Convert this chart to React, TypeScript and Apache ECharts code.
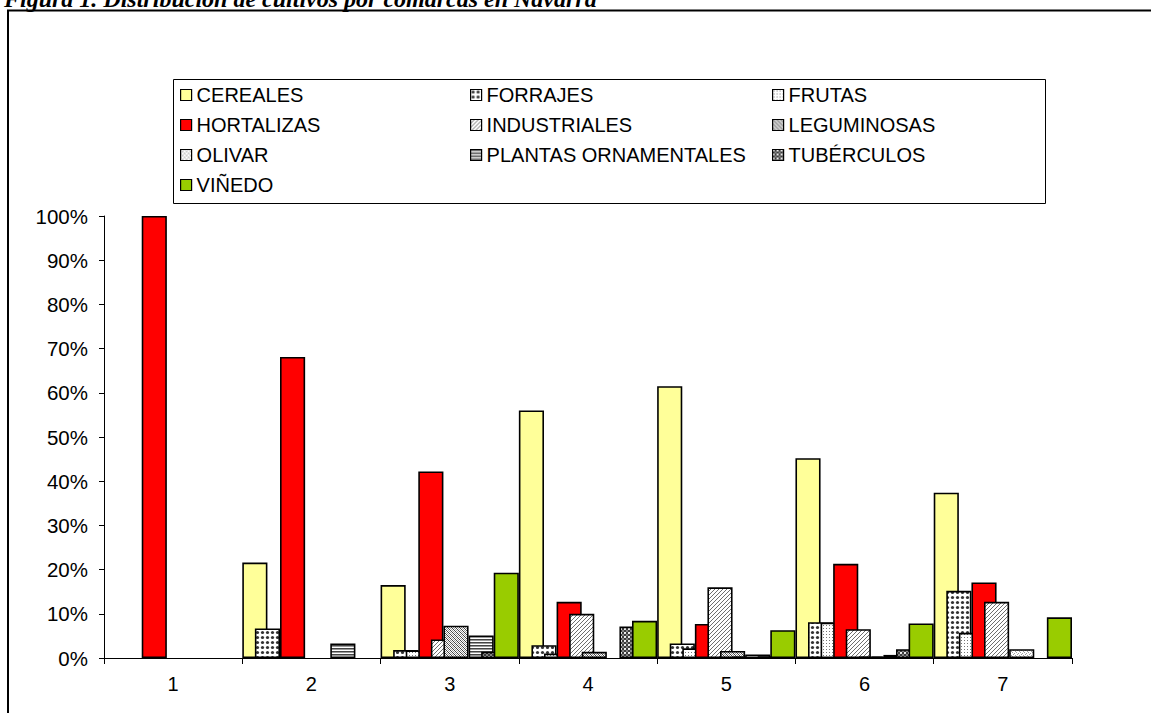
import React, { useEffect, useRef } from "react";
import * as echarts from "echarts";

// Comarcas (categories) and y-axis range
const comarcas = ["1", "2", "3", "4", "5", "6", "7"];
const yMin = 0;
const yMax = 100;
const yStep = 10;

// Share of each crop per comarca, in percent
const cereales = [0, 21.6, 16.5, 56.0, 61.5, 45.2, 37.4];
const forrajes = [0, 6.7, 1.8, 2.9, 3.3, 8.1, 15.2];
const frutas = [0, 0, 1.7, 1.0, 2.2, 8.0, 5.7];
const hortalizas = [100, 68.1, 42.2, 12.7, 7.7, 21.3, 17.1];
const industriales = [0, 0, 4.2, 10.0, 16.0, 6.5, 12.7];
const leguminosas = [0, 0, 7.3, 1.4, 1.6, 0.3, 0];
const olivar = [0, 0, 0, 0, 0.3, 0.3, 2.0];
const plantasOrnamentales = [0, 3.3, 5.1, 0, 0.8, 0.7, 0];
const tuberculos = [0, 0, 1.4, 7.1, 0.4, 2.0, 0];
const vinedo = [0, 0, 19.3, 8.4, 6.3, 7.8, 9.2];

const cropNames = [
  "CEREALES",
  "FORRAJES",
  "FRUTAS",
  "HORTALIZAS",
  "INDUSTRIALES",
  "LEGUMINOSAS",
  "OLIVAR",
  "PLANTAS ORNAMENTALES",
  "TUBÉRCULOS",
  "VIÑEDO",
];
const cropValues = [
  cereales,
  forrajes,
  frutas,
  hortalizas,
  industriales,
  leguminosas,
  olivar,
  plantasOrnamentales,
  tuberculos,
  vinedo,
];

const TITLE = "Figura 1. Distribución de cultivos por comarcas en Navarra";

type Dot = [number, number, number, number, string];

// Small bitmap tiles used as fill patterns
function tile(w: number, h: number, bg: string, dots: Dot[], circles: [number, number, number, string][] = []) {
  const c = document.createElement("canvas");
  c.width = w;
  c.height = h;
  const ctx = c.getContext("2d")!;
  ctx.fillStyle = bg;
  ctx.fillRect(0, 0, w, h);
  for (const [x, y, dw, dh, col] of dots) {
    ctx.fillStyle = col;
    ctx.fillRect(x, y, dw, dh);
  }
  for (const [cx, cy, r, col] of circles) {
    ctx.fillStyle = col;
    ctx.beginPath();
    ctx.arc(cx, cy, r, 0, Math.PI * 2);
    ctx.fill();
  }
  return { image: c, repeat: "repeat" as const };
}

function buildFills() {
  const forrajesFill = tile(5, 5, "#ffffff", [], [[2.5, 2.5, 1.6, "#333333"]]);
  const frutasFill = tile(3, 3, "#ffffff", [[1, 1, 1, 1, "#777777"]]);
  const industrialesFill = tile(4, 4, "#ffffff", [
    [3, 0, 1, 1, "#6e6e6e"],
    [2, 1, 1, 1, "#6e6e6e"],
    [1, 2, 1, 1, "#6e6e6e"],
    [0, 3, 1, 1, "#6e6e6e"],
  ]);
  const leguminosasFill = tile(4, 4, "#ffffff", [
    [0, 0, 1, 1, "#444444"],
    [1, 1, 1, 1, "#444444"],
    [2, 2, 1, 1, "#444444"],
    [3, 3, 1, 1, "#444444"],
    [2, 0, 1, 1, "#999999"],
    [3, 1, 1, 1, "#999999"],
    [0, 2, 1, 1, "#999999"],
    [1, 3, 1, 1, "#999999"],
  ]);
  const olivarFill = tile(4, 4, "#ffffff", [
    [0, 0, 1, 1, "#a0a0a0"],
    [2, 1, 1, 1, "#a0a0a0"],
    [1, 2, 1, 1, "#a0a0a0"],
    [3, 3, 1, 1, "#a0a0a0"],
  ]);
  const plantasFill = tile(1, 3, "#ffffff", [
    [0, 0, 1, 1, "#444444"],
    [0, 1, 1, 1, "#9a9a9a"],
  ]);
  const tuberculosFill = tile(4, 4, "#3c3c3c", [], [[1, 1, 1.1, "#ffffff"], [3, 3, 0.8, "#dddddd"]]);
  return [
    "#FFFF99",
    forrajesFill,
    frutasFill,
    "#FF0000",
    industrialesFill,
    leguminosasFill,
    olivarFill,
    plantasFill,
    tuberculosFill,
    "#99CC00",
  ];
}

const SANS = 'Arial, "Liberation Sans", sans-serif';
const SERIF = '"Times New Roman", "Liberation Serif", serif';

export default function App() {
  const ref = useRef<HTMLDivElement>(null);

  useEffect(() => {
    if (!ref.current) return;
    const chart = echarts.init(ref.current, null, { renderer: "svg" });
    const fills = buildFills();

    const legendColumns = [
      [cropNames[0], cropNames[3], cropNames[6], cropNames[9]],
      [cropNames[1], cropNames[4], cropNames[7]],
      [cropNames[2], cropNames[5], cropNames[8]],
    ];
    const legendLeft = [180, 470, 772];

    chart.setOption({
      animation: false,
      backgroundColor: "#ffffff",
      grid: { left: 104, right: 79, top: 216, bottom: 55, containLabel: false },
      legend: legendColumns.map((data, c) => ({
        data,
        orient: "vertical",
        left: legendLeft[c],
        top: 85,
        padding: 0,
        itemWidth: 11,
        itemHeight: 11,
        itemGap: 10,
        icon: "rect",
        selectedMode: false,
        itemStyle: { borderColor: "#000", borderWidth: 1.2 },
        textStyle: { fontSize: 20, color: "#000", fontFamily: SANS, lineHeight: 20 },
      })),
      xAxis: {
        type: "category",
        data: comarcas,
        boundaryGap: true,
        axisLine: { show: true, lineStyle: { color: "#000", width: 1 } },
        axisTick: { show: true, length: 6, lineStyle: { color: "#000" } },
        axisLabel: { fontSize: 20, color: "#000", fontFamily: SANS, margin: 16 },
        splitLine: { show: false },
      },
      yAxis: {
        type: "value",
        min: yMin,
        max: yMax,
        interval: yStep,
        axisLine: { show: true, lineStyle: { color: "#000", width: 1 } },
        axisTick: { show: true, length: 5, lineStyle: { color: "#000" } },
        axisLabel: {
          fontSize: 20.5,
          color: "#000",
          fontFamily: SANS,
          margin: 16,
          formatter: "{value}%",
        },
        splitLine: { show: false },
      },
      series: cropNames.map((name, i) => ({
        name,
        type: "bar",
        // an empty share draws no bar
        data: cropValues[i].map((v) => (v === 0 ? null : v)),
        barGap: "-50%",
        barCategoryGap: 0,
        itemStyle: { color: fills[i], borderColor: "#000", borderWidth: 1.6 },
      })),
      graphic: [
        {
          type: "text",
          left: 4,
          top: -13,
          style: {
            text: TITLE,
            font: `italic bold 24px ${SERIF}`,
            fill: "#000",
          },
        },
        {
          type: "rect",
          shape: { x: 8, y: 10.5, width: 1170, height: 730 },
          style: { fill: "none", stroke: "#000", lineWidth: 2 },
          silent: true,
        },
        {
          type: "rect",
          shape: { x: 173.5, y: 79.5, width: 872, height: 124 },
          style: { fill: "none", stroke: "#000", lineWidth: 1 },
          silent: true,
        },
      ],
    });

    return () => chart.dispose();
  }, []);

  return (
    <div
      ref={ref}
      style={{ position: "absolute", left: 0, top: 0, width: 1151, height: 713 }}
    />
  );
}
